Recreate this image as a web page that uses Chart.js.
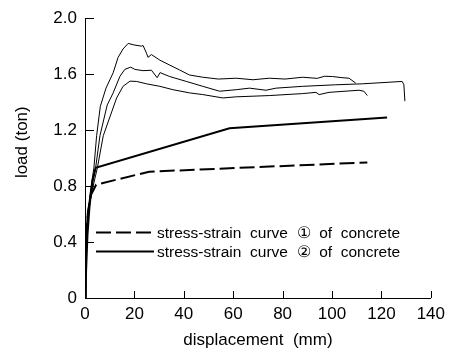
<!DOCTYPE html>
<html>
<head>
<meta charset="utf-8">
<script src="https://cdn.jsdelivr.net/npm/chart.js@4.4.0/dist/chart.umd.min.js"></script>
<style>
  html, body { margin: 0; padding: 0; background: #fff; }
</style>
</head>
<body>
<canvas id="chart" width="451" height="354"></canvas>
<script>
// x ticks and y ticks
const xTicks = [0, 20, 40, 60, 80, 100, 120, 140];
const yTicks = [0, 0.4, 0.8, 1.2, 1.6, 2.0];

// test curves (thin)
const testAX = [0, 0.4, 0.9, 2, 3.6, 4.7, 6.2, 8.5, 11.4, 13.4, 15.4, 17.5, 19.5, 22.9, 23.5, 24.9, 25.5, 26.9, 30.3, 34.3, 38.3, 42.3, 47.7, 54, 61.2, 68, 74.6, 81, 88.1, 94, 97, 100.2, 104, 106.9, 109.6];
const testAY = [0, 0.3, 0.57, 0.74, 0.93, 1.16, 1.37, 1.5, 1.61, 1.72, 1.78, 1.82, 1.81, 1.80, 1.805, 1.75, 1.72, 1.74, 1.70, 1.665, 1.63, 1.594, 1.578, 1.565, 1.571, 1.56, 1.571, 1.565, 1.578, 1.57, 1.585, 1.583, 1.575, 1.571, 1.536];

const testBX = [0, 0.4, 0.9, 2.2, 4.3, 6.05, 9, 11.4, 14.1, 16.1, 18.5, 20.2, 23.5, 26.9, 29.2, 30.4, 34.3, 41, 47.7, 54.5, 61.2, 66.6, 73.3, 77.3, 88.1, 101.5, 112.3, 128.4, 129.1, 129.5];
const testBY = [0, 0.3, 0.57, 0.74, 0.93, 1.16, 1.38, 1.466, 1.583, 1.634, 1.65, 1.634, 1.625, 1.628, 1.575, 1.611, 1.583, 1.548, 1.513, 1.478, 1.489, 1.50, 1.485, 1.50, 1.513, 1.524, 1.531, 1.548, 1.524, 1.407];

const testCX = [0, 0.4, 1, 2.5, 5, 7.4, 10.8, 12.8, 15.4, 18.2, 20.9, 24.9, 30.3, 35.6, 42.4, 47.7, 55.8, 61.2, 74.6, 88.1, 93.5, 94.8, 98.8, 110.9, 112.9, 114.3];
const testCY = [0, 0.3, 0.57, 0.74, 0.93, 1.16, 1.33, 1.43, 1.513, 1.55, 1.548, 1.531, 1.513, 1.489, 1.466, 1.454, 1.43, 1.438, 1.447, 1.461, 1.47, 1.454, 1.47, 1.485, 1.478, 1.447];

// model curves (thick)
const curve1X = [0, 0.5, 1.2, 2.5, 4.5, 26, 114.3];
const curve1Y = [0, 0.45, 0.62, 0.74, 0.81, 0.903, 0.969];
const curve2X = [0, 1, 1.8, 3, 4.3, 58.5, 122.3];
const curve2Y = [0, 0.45, 0.65, 0.84, 0.93, 1.213, 1.29];

const labels = ['stress-strain  curve  \u2460  of  concrete', 'stress-strain  curve  \u2461  of  concrete'];

const FONT = "'Liberation Sans', Arial, sans-serif";

function pts(xs, ys) {
    return xs.map((x, i) => ({x: x, y: ys[i]}));
}

const insideTicks = {
    id: 'insideTicks',
    afterDraw(chart) {
        const ctx = chart.ctx;
        const ax = chart.scales.x, ay = chart.scales.y;
        ctx.save();
        ctx.strokeStyle = '#000';
        ctx.lineWidth = 1;
        ctx.beginPath();
        xTicks.forEach(v => {
            if (v === 0) return;
            const px = Math.round(ax.getPixelForValue(v)) + 0.5;
            ctx.moveTo(px, ay.bottom);
            ctx.lineTo(px, ay.bottom - 7);
        });
        yTicks.forEach(v => {
            if (v === 0) return;
            const py = Math.round(ay.getPixelForValue(v)) + 0.5;
            ctx.moveTo(ax.left, py);
            ctx.lineTo(ax.left + 9, py);
        });
        ctx.stroke();

        // y axis title
        ctx.fillStyle = '#000';
        ctx.font = '17px ' + FONT;
        ctx.textAlign = 'center';
        ctx.textBaseline = 'middle';
        ctx.translate(22, chart.chartArea.top + 124);
        ctx.rotate(-Math.PI / 2);
        ctx.fillText('load (ton)', 0, 0);
        ctx.restore();

        // legend
        const left = chart.chartArea.left, bottom = chart.chartArea.bottom;
        ctx.save();
        ctx.font = '15.5px ' + FONT;
        ctx.fillStyle = '#000';
        ctx.textAlign = 'left';
        ctx.textBaseline = 'middle';
        const rows = [chart.data.datasets[3], chart.data.datasets[4]];
        rows.forEach((ds, i) => {
            const y = Math.round(bottom - 66 + i * 19) + 0.5;
            ctx.beginPath();
            ctx.lineWidth = 2;
            ctx.strokeStyle = '#000';
            ctx.setLineDash(ds.borderDash || []);
            ctx.moveTo(left + 11, y);
            ctx.lineTo(left + 69, y);
            ctx.stroke();
            ctx.setLineDash([]);
            ctx.fillText(ds.label, left + 72, y + 1);
        });
        ctx.restore();
    }
};

new Chart("chart", {
    type: "scatter",
    data: {
        datasets: [{
            data: pts(testAX, testAY),
            borderColor: "#000",
            borderWidth: 1
        }, {
            data: pts(testBX, testBY),
            borderColor: "#000",
            borderWidth: 1
        }, {
            data: pts(testCX, testCY),
            borderColor: "#000",
            borderWidth: 1
        }, {
            label: labels[0],
            data: pts(curve1X, curve1Y),
            borderColor: "#000",
            borderWidth: 2,
            borderDash: [15, 5]
        }, {
            label: labels[1],
            data: pts(curve2X, curve2Y),
            borderColor: "#000",
            borderWidth: 2
        }]
    },
    options: {
        responsive: false,
        animation: false,
        devicePixelRatio: 1,
        showLine: true,
        elements: {
            point: { radius: 0 },
            line: { tension: 0, fill: false }
        },
        layout: { padding: { top: 14, right: 19, left: 0, bottom: 0 } },
        plugins: {
            legend: { display: false },
            tooltip: { enabled: false }
        },
        scales: {
            x: {
                type: "linear",
                min: 0,
                max: 140,
                afterFit: s => { s.height = 56; },
                afterBuildTicks: s => { s.ticks = xTicks.map(v => ({value: v})); },
                ticks: {
                    color: "#000",
                    font: { family: FONT, size: 17 },
                    padding: 6,
                    maxRotation: 0
                },
                grid: { drawOnChartArea: false, drawTicks: false },
                border: { color: "#000", width: 1 },
                title: {
                    display: true,
                    text: "displacement  (mm)",
                    color: "#000",
                    font: { family: FONT, size: 17 },
                    padding: { top: 0, bottom: 3 }
                }
            },
            y: {
                min: 0,
                max: 2,
                afterFit: s => { s.width = 85; },
                afterBuildTicks: s => { s.ticks = yTicks.map(v => ({value: v})); },
                ticks: {
                    color: "#000",
                    font: { family: FONT, size: 17 },
                    padding: 8,
                    callback: v => v === 0 ? "0" : v.toFixed(1)
                },
                grid: { drawOnChartArea: false, drawTicks: false },
                border: { color: "#000", width: 1 }
            }
        }
    },
    plugins: [insideTicks]
});
</script>
</body>
</html>
